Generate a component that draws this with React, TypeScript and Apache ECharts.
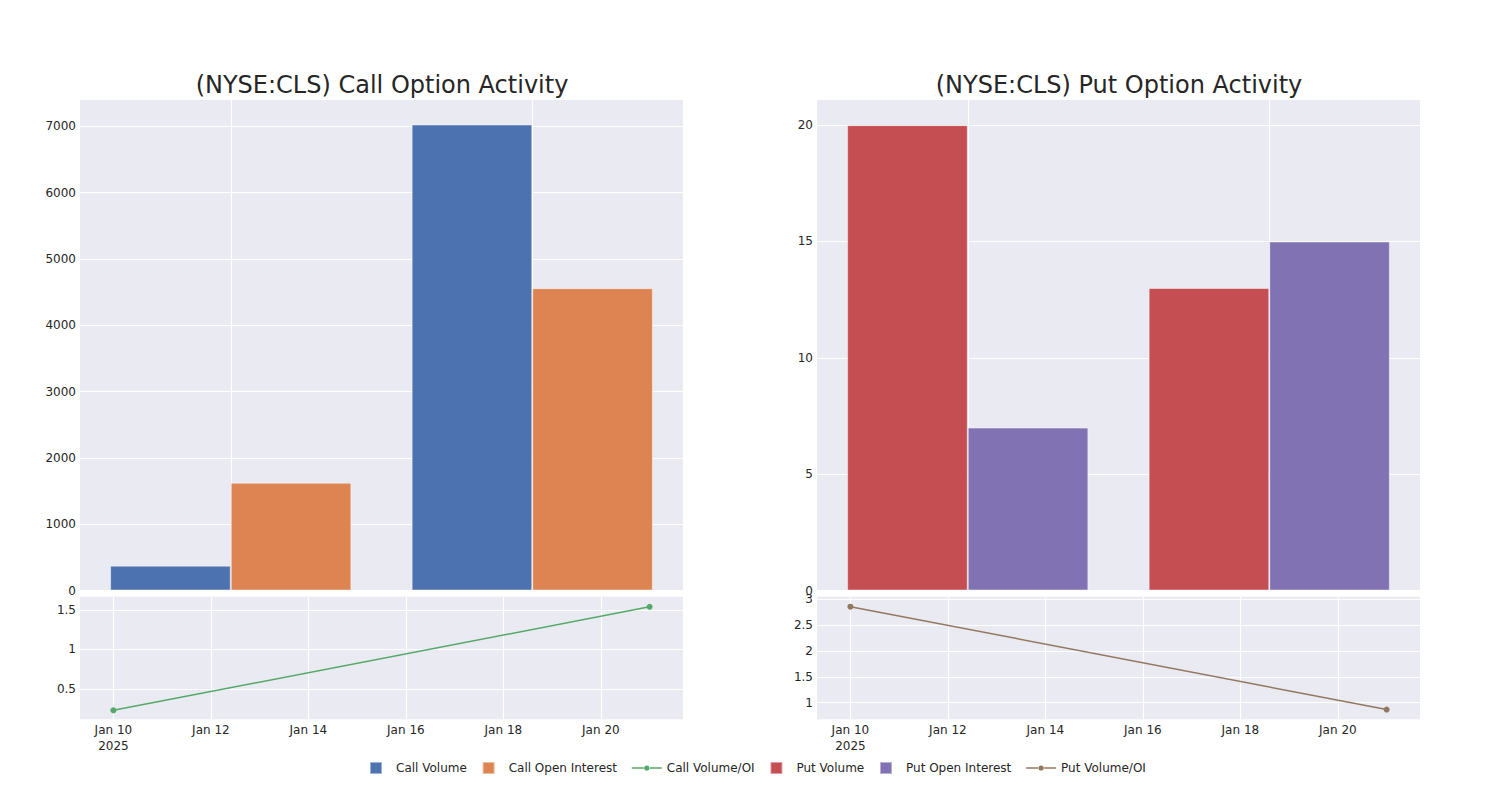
import React, { useEffect, useRef } from 'react';
import * as echarts from 'echarts';

const categories = ['2025-01-10', '2025-01-21'];
const callVolume = [375, 7025];
const callOpenInterest = [1625, 4558];
const putVolume = [20, 13];
const putOpenInterest = [7, 15];

const ratioDates = ['2025-01-10', '2025-01-21'];
const callRatio = [0.23, 1.54];
const putRatio = [2.857, 0.867];

const dateTicks = ['2025-01-10', '2025-01-12', '2025-01-14', '2025-01-16', '2025-01-18', '2025-01-20'];
const callBarTicks = [0, 1000, 2000, 3000, 4000, 5000, 6000, 7000];
const putBarTicks = [0, 5, 10, 15, 20];
const callRatioTicks = [0.5, 1, 1.5];
const putRatioTicks = [1, 1.5, 2, 2.5, 3];

const FONT = 'DejaVu Sans';
const TEXT = '#262626';
const BG = '#EAEAF2';
const MONTHS = ['Jan', 'Feb', 'Mar', 'Apr', 'May', 'Jun', 'Jul', 'Aug', 'Sep', 'Oct', 'Nov', 'Dec'];
const DAY = 86400000;
const toTs = (s: string) => Date.parse(s + 'T00:00:00Z');

export default function App() {
  const ref = useRef<HTMLDivElement>(null);
  useEffect(() => {
    document.body.style.margin = '0';
    const chart = echarts.init(ref.current!, null, { renderer: 'svg' });
    const xMin = toTs(ratioDates[0]) - 0.685 * DAY;
    const xMax = toTs(ratioDates[ratioDates.length - 1]) + 0.685 * DAY;
    const tickTs = dateTicks.map(toTs);
    const firstTick = tickTs[0];
    const dateFmt = (v: number) => {
      const d = new Date(v);
      const s = MONTHS[d.getUTCMonth()] + ' ' + d.getUTCDate();
      return Math.abs(v - firstTick) < 1000 ? s + '\n' + d.getUTCFullYear() : s;
    };
    const grids = [
      { left: 80, top: 100, width: 603, height: 490.5 },
      { left: 80, top: 596.7, width: 603, height: 122.6 },
      { left: 817, top: 100, width: 603, height: 490.5 },
      { left: 817, top: 596.7, width: 603, height: 122.6 },
    ].map((g) => ({ ...g, show: true, backgroundColor: BG, borderWidth: 0 }));
    const splitLine = { show: true, lineStyle: { color: '#ffffff', width: 1 } };
    const lbl = { color: TEXT, fontFamily: FONT, fontSize: 12 };
    const catAxis = (gi: number) => ({
      type: 'category',
      gridIndex: gi,
      data: categories,
      axisLine: { show: false },
      axisTick: { show: false },
      axisLabel: { show: false },
      splitLine: { ...splitLine, alignWithLabel: true },
    });
    const timeAxis = (gi: number) => ({
      type: 'value',
      gridIndex: gi,
      min: xMin,
      max: xMax,
      axisLine: { show: false },
      axisTick: { show: false, customValues: tickTs },
      axisLabel: { ...lbl, customValues: tickTs, formatter: dateFmt, margin: 3, lineHeight: 16 },
      splitLine,
    });
    const valAxis = (gi: number, min: number, max: number, ticks: number[]) => ({
      type: 'value',
      gridIndex: gi,
      min,
      max,
      axisLine: { show: false },
      axisTick: { show: false, customValues: ticks },
      axisLabel: { ...lbl, customValues: ticks, margin: 4, formatter: (v: number) => String(v) },
      splitLine,
    });
    const barStyle = (color: string) => ({
      color,
      borderColor: 'rgba(255,255,255,0.45)',
      borderWidth: 1,
    });
    const bar = (name: string, gi: number, data: number[], color: string) => ({
      name,
      type: 'bar',
      xAxisIndex: gi,
      yAxisIndex: gi,
      data,
      barCategoryGap: '20%',
      barGap: '0%',
      itemStyle: barStyle(color),
    });
    const line = (name: string, gi: number, data: number[], color: string) => ({
      name,
      type: 'line',
      xAxisIndex: gi,
      yAxisIndex: gi,
      data: ratioDates.map((d, i) => [toTs(d), data[i]]),
      symbol: 'circle',
      symbolSize: 6,
      showSymbol: true,
      color,
      lineStyle: { color, width: 1.5 },
      itemStyle: { color },
    });
    const sq = 'path://M0,0H12V12H0Z';
    const lineIcon =
      'path://M0,5.2H12V6.8H0Z M18,5.2H30V6.8H18Z M17.6,6A2.6,2.6 0 1,1 12.4,6A2.6,2.6 0 1,1 17.6,6Z';
    const titleStyle = { fontFamily: FONT, fontSize: 24, fontWeight: 'normal', color: TEXT };
    chart.setOption({
      animation: false,
      textStyle: { fontFamily: FONT },
      title: [
        {
          text: '(NYSE:CLS) Call Option Activity',
          left: 377,
          top: 68,
          textAlign: 'center',
          textStyle: titleStyle,
        },
        {
          text: '(NYSE:CLS) Put Option Activity',
          left: 1114,
          top: 68,
          textAlign: 'center',
          textStyle: titleStyle,
        },
      ],
      legend: {
        left: 364,
        top: 756,
        itemWidth: 30,
        itemHeight: 12,
        itemGap: 14.8,
        textStyle: { fontFamily: FONT, fontSize: 12, color: TEXT },
        data: [
          { name: 'Call Volume', icon: sq },
          { name: 'Call Open Interest', icon: sq },
          { name: 'Call Volume/OI', icon: lineIcon },
          { name: 'Put Volume', icon: sq },
          { name: 'Put Open Interest', icon: sq },
          { name: 'Put Volume/OI', icon: lineIcon },
        ],
      },
      grid: grids,
      xAxis: [catAxis(0), timeAxis(1), catAxis(2), timeAxis(3)],
      yAxis: [
        valAxis(0, 0, 7395, callBarTicks),
        valAxis(1, 0.116, 1.668, callRatioTicks),
        valAxis(2, 0, 21.08, putBarTicks),
        valAxis(3, 0.679, 3.05, putRatioTicks),
      ],
      series: [
        bar('Call Volume', 0, callVolume, '#4C72B0'),
        bar('Call Open Interest', 0, callOpenInterest, '#DD8452'),
        line('Call Volume/OI', 1, callRatio, '#55A868'),
        bar('Put Volume', 2, putVolume, '#C44E52'),
        bar('Put Open Interest', 2, putOpenInterest, '#8172B3'),
        line('Put Volume/OI', 3, putRatio, '#937860'),
      ],
    });
    return () => chart.dispose();
  }, []);
  return <div ref={ref} style={{ width: 1500, height: 800 }} />;
}
